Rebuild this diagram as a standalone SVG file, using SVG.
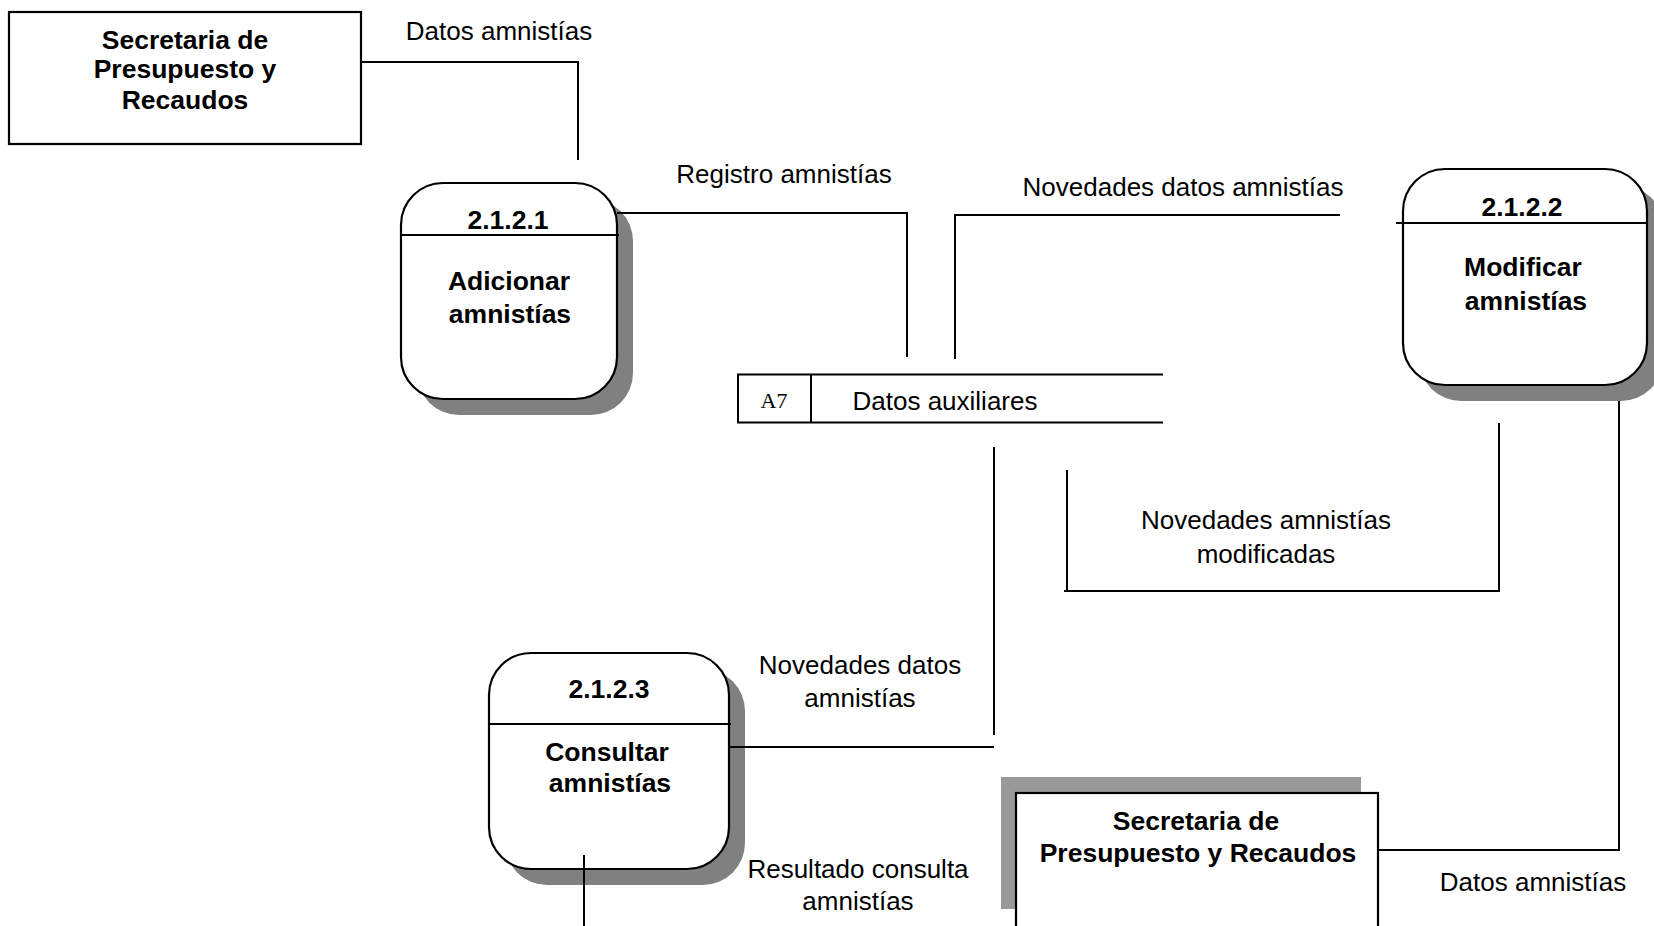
<svg xmlns="http://www.w3.org/2000/svg" width="1654" height="926" viewBox="0 0 1654 926">
  <style>
    .bg { fill: #ffffff; }
    .box { fill: #ffffff; stroke: #000000; stroke-width: 2.2; }
    .shadow { fill: #808080; stroke: none; }
    .shadow-light { fill: #999999; stroke: none; }
    .line { fill: none; stroke: #000000; stroke-width: 2; }
    .title { font-family: "Liberation Sans", Arial, sans-serif; font-weight: bold; font-size: 26.5px; fill: #000000; text-anchor: middle; }
    .label { font-family: "Liberation Sans", Arial, sans-serif; font-size: 26px; fill: #000000; text-anchor: middle; }
    .serif { font-family: "Liberation Serif", "Times New Roman", serif; font-size: 22px; fill: #000000; text-anchor: middle; }
  </style>

  <rect class="bg" x="0" y="0" width="1654" height="926"/>

  <!-- External entity (top left) -->
  <g id="entity-secretaria-1">
    <rect class="box" x="9" y="12" width="352" height="132"/>
    <text class="title" x="185" y="49">Secretaria de</text>
    <text class="title" x="185" y="78">Presupuesto y</text>
    <text class="title" x="185" y="109">Recaudos</text>
  </g>

  <!-- Process 2.1.2.1 -->
  <g id="process-2121">
    <rect class="shadow" x="417" y="199" width="216" height="216" rx="42"/>
    <rect class="box" x="401" y="183" width="216" height="216" rx="42"/>
    <line class="line" x1="401" y1="235" x2="619" y2="235"/>
    <text class="title" x="508" y="229">2.1.2.1</text>
    <text class="title" x="509" y="290">Adicionar</text>
    <text class="title" x="510" y="323">amnistías</text>
  </g>

  <!-- Process 2.1.2.2 -->
  <g id="process-2122">
    <rect class="shadow" x="1419" y="185" width="244" height="216" rx="42"/>
    <rect class="box" x="1403" y="169" width="244" height="216" rx="42"/>
    <line class="line" x1="1396" y1="223" x2="1647" y2="223"/>
    <text class="title" x="1522" y="216">2.1.2.2</text>
    <text class="title" x="1523" y="276">Modificar</text>
    <text class="title" x="1526" y="310">amnistías</text>
  </g>

  <!-- Data store A7 -->
  <g id="store-a7">
    <path class="line" d="M1163,374.5 H738 V422.5 H1163 M811,374.5 V422.5"/>
    <text class="serif" x="774" y="408">A7</text>
    <text class="label" x="945" y="410">Datos auxiliares</text>
  </g>

  <!-- Process 2.1.2.3 -->
  <g id="process-2123">
    <rect class="shadow" x="505" y="669" width="240" height="216" rx="42"/>
    <rect class="box" x="489" y="653" width="240" height="216" rx="42"/>
    <line class="line" x1="489" y1="724" x2="731" y2="724"/>
    <text class="title" x="609" y="698">2.1.2.3</text>
    <text class="title" x="607" y="761">Consultar</text>
    <text class="title" x="610" y="792">amnistías</text>
  </g>

  <!-- External entity (bottom right) -->
  <g id="entity-secretaria-2">
    <rect class="shadow-light" x="1001" y="777" width="360" height="132"/>
    <rect class="box" x="1016" y="793" width="362" height="140"/>
    <text class="title" x="1196" y="830">Secretaria de</text>
    <text class="title" x="1198" y="862">Presupuesto y Recaudos</text>
  </g>

  <!-- Flows between entities, processes and the data store (drawn over the shadows) -->
  <g id="connectors">
    <polyline class="line" points="361,62 578,62 578,160"/>
    <polyline class="line" points="617,213 907,213 907,357"/>
    <polyline class="line" points="955,359 955,215 1340,215"/>
    <path class="line" d="M994,447 V735 M729,747 H994"/>
    <polyline class="line" points="1499,423 1499,591 1064,591"/>
    <path class="line" d="M1067,591 V470"/>
    <polyline class="line" points="1619,401 1619,850 1378,850"/>
    <path class="line" d="M584,855 V926"/>

    <text class="label" x="499" y="40">Datos amnistías</text>
    <text class="label" x="784" y="183">Registro amnistías</text>
    <text class="label" x="1183" y="196">Novedades datos amnistías</text>
    <text class="label" x="1266" y="529">Novedades amnistías</text>
    <text class="label" x="1266" y="563">modificadas</text>
    <text class="label" x="860" y="674">Novedades datos</text>
    <text class="label" x="860" y="707">amnistías</text>
    <text class="label" x="858" y="878">Resultado consulta</text>
    <text class="label" x="858" y="910">amnistías</text>
    <text class="label" x="1533" y="891">Datos amnistías</text>
  </g>
</svg>
